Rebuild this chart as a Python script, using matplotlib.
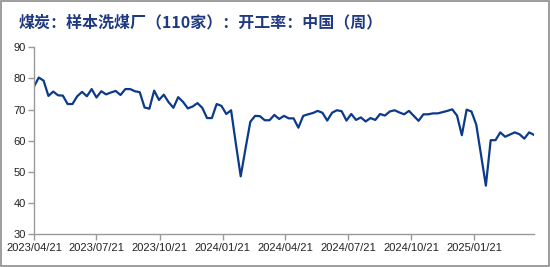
import numpy as np
import pandas as pd
import matplotlib
matplotlib.use('Agg')
import matplotlib.pyplot as plt
import matplotlib.dates as mdates
from matplotlib.patches import Rectangle

# weekly operating rate, 110 sample coal washing plants
start_date = '2023-04-21'
rate = [77.4, 80.3, 79.3, 74.4, 75.8, 74.6, 74.5, 71.8, 71.8, 74.3,
        75.7, 74.3, 76.6, 73.9, 75.9, 74.9, 75.5, 76.0, 74.7, 76.6,
        76.6, 75.9, 75.6, 70.7, 70.3, 76.1, 73.1, 74.8, 72.4, 70.6,
        74.0, 72.5, 70.4, 71.0, 72.1, 70.6, 67.3, 67.3, 71.8, 71.2,
        68.6, 69.8, 59.0, 48.6, 57.5, 66.1, 68.0, 67.9, 66.6, 66.6,
        68.3, 67.0, 68.0, 67.2, 67.2, 64.2, 68.0, 68.5, 68.9, 69.6,
        69.0, 66.5, 69.0, 69.8, 69.5, 66.5, 68.6, 66.7, 67.5, 66.2,
        67.3, 66.7, 68.6, 68.1, 69.4, 69.8, 69.1, 68.5, 69.6, 68.0,
        66.4, 68.5, 68.5, 68.8, 68.8, 69.2, 69.6, 70.1, 68.1, 61.8,
        70.0, 69.4, 65.2, 55.4, 45.6, 60.2, 60.2, 62.7, 61.3, 62.0,
        62.7, 62.1, 60.7, 62.7, 61.9]
dates = pd.date_range(start_date, periods=len(rate), freq='7D')

tick_dates = ['2023-04-21', '2023-07-21', '2023-10-21', '2024-01-21',
              '2024-04-21', '2024-07-21', '2024-10-21', '2025-01-21']
yticks = [30, 40, 50, 60, 70, 80, 90]

title = '煤炭：样本洗煤厂（110家）：开工率：中国（周）'

plt.rcParams['font.family'] = ['Liberation Sans', 'Noto Sans CJK SC', 'DejaVu Sans']

fig = plt.figure(figsize=(5.5, 2.67), dpi=100)
ax = fig.add_axes([0.0618, 0.1225, 0.909, 0.7003])

ax.plot(dates, rate, color='#0B3A8A', linewidth=1.6)

ax.set_xlim(dates[0], dates[-1])
ax.set_ylim(30, 90)
ax.set_yticks(yticks)
ax.set_xticks(pd.to_datetime(tick_dates))
ax.xaxis.set_major_formatter(mdates.DateFormatter('%Y/%m/%d'))

for side in ['top', 'right']:
    ax.spines[side].set_visible(False)
for side in ['left', 'bottom']:
    ax.spines[side].set_color('#9a9a9a')
    ax.spines[side].set_linewidth(1.0)
ax.tick_params(axis='both', direction='out', length=4, width=1.0,
               color='#9a9a9a', labelsize=8, labelcolor='#222222', pad=2)

fig.text(0.033, 0.915, title, fontsize=11.5, fontweight='bold', color='#1F3A80',
         family=['Noto Sans CJK SC', 'DejaVu Sans'], va='center', ha='left')

fig.patches.append(Rectangle((0.002, 0.004), 0.996, 0.992, transform=fig.transFigure,
                             fill=False, edgecolor='#8c8c8c', linewidth=1.2))

fig.savefig('out.png', dpi=100)
